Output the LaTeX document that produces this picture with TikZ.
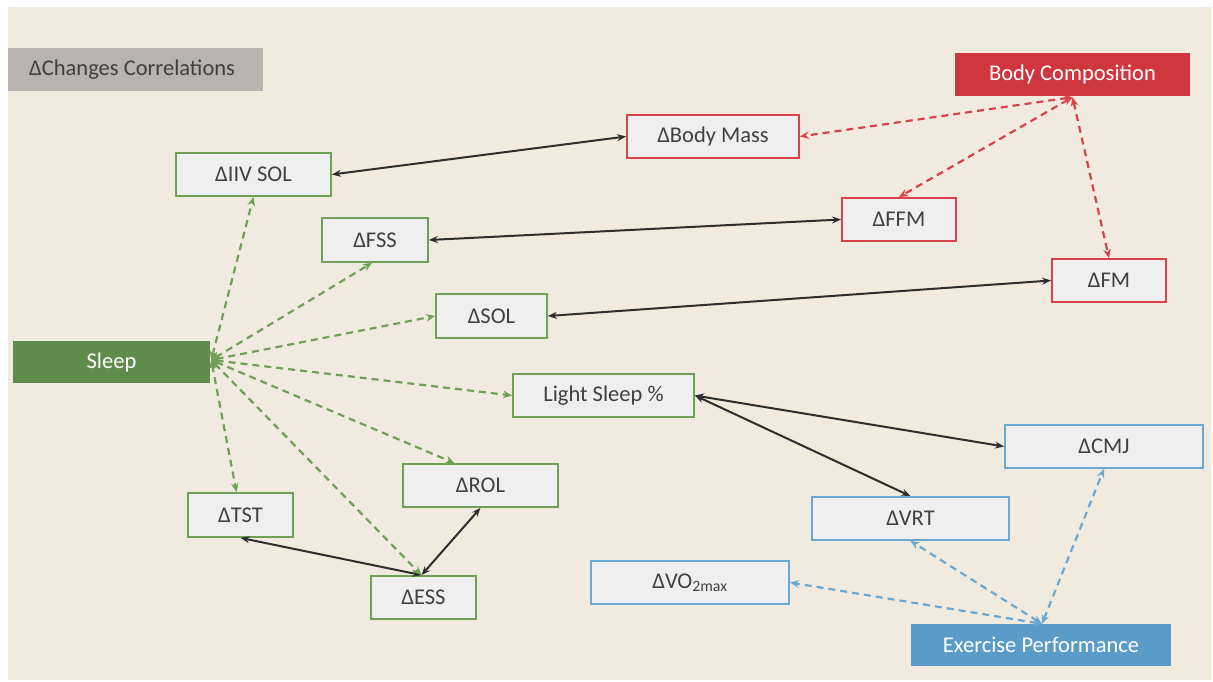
\documentclass[tikz,border=0pt]{standalone}
\usepackage{fontspec}
\setmainfont{Carlito}
\usetikzlibrary{arrows.meta,calc}
\definecolor{bg}{HTML}{F1EADF}
\definecolor{titlegray}{HTML}{B8B2B0}
\definecolor{txt}{HTML}{404040}
\definecolor{rfill}{HTML}{D0363D}
\definecolor{rline}{HTML}{D8434A}
\definecolor{gfill}{HTML}{5F8C4A}
\definecolor{gline}{HTML}{70A055}
\definecolor{bfill}{HTML}{5B9BC8}
\definecolor{bline}{HTML}{6AA8D4}
\definecolor{boxfill}{HTML}{EFEFEF}
\definecolor{dark}{HTML}{2E2E2E}
\tikzset{
  x=1pt,y=-1pt,
  every node/.style={font=\fontsize{22.5}{27}\selectfont,text=txt,inner sep=0pt,minimum height=43pt},
  gbox/.style={draw=gline,line width=1.8pt,fill=boxfill},
  rbox/.style={draw=rline,line width=1.8pt,fill=boxfill},
  bbox/.style={draw=bline,line width=1.8pt,fill=boxfill},
  catbox/.style={text=white},
  solidlink/.style={draw=dark,line width=2pt,{Stealth[length=9pt,width=7pt]}-{Stealth[length=9pt,width=7pt]}},
  dashlink/.style={line width=2.2pt,dash pattern=on 7pt off 5pt,{Stealth[length=9pt,width=7.5pt]}-{Stealth[length=9pt,width=7.5pt]}},
}
\begin{document}
\begin{tikzpicture}
\useasboundingbox (0,0) rectangle (1213,682);
\fill[white] (0,0) rectangle (1213,682);
\fill[bg] (8,7) rectangle (1211,680);
% title
\fill[titlegray] (8,48) rectangle (263,91);
\node[anchor=west,minimum height=0pt] (title) at (29,70) {ΔChanges Correlations};
% category nodes
\node[catbox,fill=rfill,minimum width=235pt] (BC) at (1072.5,74.5) {Body Composition};
\node[catbox,fill=gfill,minimum width=197pt,minimum height=42pt] (Sleep) at (111.5,362) {Sleep};
\node[catbox,fill=bfill,minimum width=260pt,minimum height=42pt] (EP) at (1041,645) {Exercise Performance};
% red nodes
\node[rbox,minimum width=172pt] (BM) at (713,136.5) {ΔBody Mass};
\node[rbox,minimum width=114pt] (FFM) at (899,219.5) {ΔFFM};
\node[rbox,minimum width=114pt] (FM) at (1109,280.5) {ΔFM};
% green nodes
\node[gbox,minimum width=155pt] (IIV) at (253.5,174.5) {ΔIIV SOL};
\node[gbox,minimum width=106pt,minimum height=44pt] (FSS) at (375,240) {ΔFSS};
\node[gbox,minimum width=111pt,minimum height=44pt] (SOL) at (491.5,316) {ΔSOL};
\node[gbox,minimum width=181pt] (LS) at (603.5,395.5) {Light Sleep \%};
\node[gbox,minimum width=155pt] (ROL) at (480.5,485.5) {ΔROL};
\node[gbox,minimum width=105pt,minimum height=44pt] (TST) at (240.5,515) {ΔTST};
\node[gbox,minimum width=105pt] (ESS) at (423.5,597.5) {ΔESS};
% blue nodes
\node[bbox,minimum width=198pt] (CMJ) at (1104,446.5) {ΔCMJ};
\node[bbox,minimum width=197pt] (VRT) at (910.5,518.5) {ΔVRT};
\node[bbox,minimum width=198pt] (VO2) at (690,582.5) {ΔVO\textsubscript{2max}};
% anchors
\coordinate (sleepE) at ($(Sleep.east)+(1,-2)$);
\coordinate (bcS) at ($(BC.south)+(0,1)$);
\coordinate (epN) at ($(EP.north)+(1,0)$);
\coordinate (essN) at ($(ESS.north)+(-2,0)$);
\coordinate (rolN) at ($(ROL.north)+(-26,0)$);
\coordinate (tstN) at ($(TST.north)+(-4,0)$);
\coordinate (fssS) at ($(FSS.south)+(-3,0)$);
% black links
\draw[solidlink] (IIV.east) -- (BM.west);
\draw[solidlink] (FSS.east) -- (FFM.west);
\draw[solidlink] (SOL.east) -- (FM.west);
\draw[solidlink] (LS.east) -- (CMJ.west);
\draw[solidlink] (LS.east) -- (VRT.north);
\draw[solidlink] (TST.south) -- (essN);
\draw[solidlink] (ROL.south) -- (essN);
% green dashed
\draw[dashlink,draw=gline] (sleepE) -- (IIV.south);
\draw[dashlink,draw=gline] (sleepE) -- (fssS);
\draw[dashlink,draw=gline] (sleepE) -- (SOL.west);
\draw[dashlink,draw=gline] (sleepE) -- (LS.west);
\draw[dashlink,draw=gline] (sleepE) -- (rolN);
\draw[dashlink,draw=gline] (sleepE) -- (essN);
\draw[dashlink,draw=gline] (sleepE) -- (tstN);
% red dashed
\draw[dashlink,draw=rline] (bcS) -- (BM.east);
\draw[dashlink,draw=rline] (bcS) -- (FFM.north);
\draw[dashlink,draw=rline] (bcS) -- (FM.north);
% blue dashed
\draw[dashlink,draw=bline] (epN) -- (VO2.east);
\draw[dashlink,draw=bline] (epN) -- (VRT.south);
\draw[dashlink,draw=bline] (epN) -- (CMJ.south);
\end{tikzpicture}
\end{document}
